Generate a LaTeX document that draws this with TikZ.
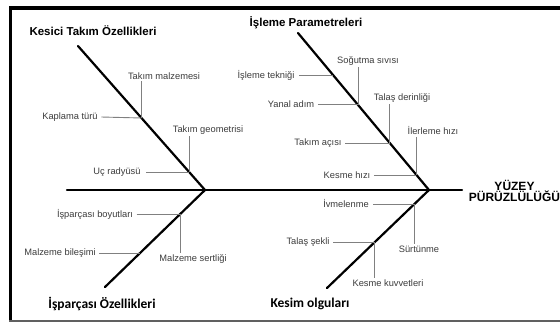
\documentclass[tikz,border=0pt]{standalone}
\usepackage{fontspec}
\setmainfont{Liberation Sans}
\newfontfamily\calib{Carlito}
\definecolor{labelgray}{HTML}{3C3C3C}
\definecolor{twiggray}{HTML}{808080}
\definecolor{framegray}{HTML}{606060}
\begin{document}
\begin{tikzpicture}[x=1pt,y=-1pt,
  lbl/.style={font=\fontsize{9.3}{10}\selectfont, text=labelgray, inner sep=1.5pt},
  ttl/.style={font=\fontsize{11.5}{13}\selectfont\bfseries, inner sep=0pt},
  ttlc/.style={font=\fontsize{13.5}{15}\selectfont\calib\bfseries, inner sep=0pt},
  bone/.style={line width=2.2pt, line cap=round},
  twig/.style={line width=0.9pt, draw=twiggray}]
\useasboundingbox (0,0) rectangle (560,322);
\fill[white] (0,0) rectangle (560,322);
% frame
\draw[line width=3.5pt] (9,8) -- (560,8);
\draw[line width=3.3pt] (10.6,6.3) -- (10.6,321);
\draw[line width=1.5pt, framegray] (9,321) -- (560,321);

% main bones
\coordinate (sl) at (67,190);
\coordinate (sr) at (462,190);
\coordinate (jl) at (205,190);
\coordinate (jr) at (429,190);
\coordinate (ul) at (78,46);
\coordinate (ur) at (298,33);
\coordinate (ll) at (105,287);
\coordinate (lr) at (327,288);
\draw[bone] (sl) -- (sr);
\draw[bone] (ul) -- (jl) -- (ll);
\draw[bone] (ur) -- (jr) -- (lr);

% titles
\node[ttl] (t1) at (93,31) {Kesici Takım Özellikleri};
\node[ttl] (t2) at (306,23) {İşleme Parametreleri};
\node[ttlc] (t3) at (102,304) {İşparçası Özellikleri};
\node[ttlc] (t4) at (310,304) {Kesim olguları};
\node[font=\fontsize{12}{11}\selectfont\bfseries, align=center, inner sep=0pt] (effect) at (514.5,190.5) {YÜZEY\\PÜRÜZLÜLÜĞÜ};

% junctions
\coordinate (j1) at (141.5,118);
\coordinate (j2) at (189,172);
\coordinate (j3a) at (333,75);
\coordinate (j3) at (358,105);
\coordinate (j4) at (389.7,143);
\coordinate (j5) at (416.4,175);
\coordinate (j6) at (180.3,214);
\coordinate (j6b) at (140,253);
\coordinate (j7) at (414.4,204);
\coordinate (j8) at (374.9,242);

% upper-left labels
\node[lbl] (a1) at (164,76) {Takım malzemesi};
\node[lbl] (a2) at (70,117) {Kaplama türü};
\node[lbl] (a3) at (208,130) {Takım geometrisi};
\node[lbl] (a4) at (117,172) {Uç radyüsü};
\draw[twig] (j1 |- a1.south) -- (j1);
\draw[twig] ([xshift=2pt]a2.east) -- (j1);
\draw[twig] (j2 |- a3.south) -- (j2);
\draw[twig] ([xshift=4pt]a4.east) -- (j2);

% upper-right labels
\node[lbl] (b1) at (368,61) {Soğutma sıvısı};
\node[lbl] (b2) at (266,75) {İşleme tekniği};
\node[lbl] (b3) at (291,104) {Yanal adım};
\node[lbl] (b4) at (402,98) {Talaş derinliği};
\node[lbl] (b5) at (318,143) {Takım açısı};
\node[lbl] (b6) at (433,131) {İlerleme hızı};
\node[lbl] (b7) at (347,175) {Kesme hızı};
\draw[twig] ([xshift=3pt]b2.east) -- (j3a);
\draw[twig] (j3 |- b1.south) -- (j3);
\draw[twig] ([xshift=2pt]b3.east) -- (j3 |- b3.east);
\draw[twig] (j4 |- b4.south) -- (j4);
\draw[twig] ([xshift=2pt]b5.east) -- (j4);
\draw[twig] (j5 |- b6.south) -- (j5);
\draw[twig] ([xshift=2pt]b7.east) -- (j5);

% lower-left labels
\node[lbl] (c1) at (95,214) {İşparçası boyutları};
\node[lbl] (c2) at (60,253) {Malzeme bileşimi};
\node[lbl] (c3) at (193,259) {Malzeme sertliği};
\draw[twig] ([xshift=2pt]c1.east) -- (j6);
\draw[twig] (j6) -- (j6 |- c3.north);
\draw[twig] ([xshift=2pt]c2.east) -- (j6b);

% lower-right labels
\node[lbl] (d1) at (346,204) {İvmelenme};
\node[lbl] (d2) at (308,242) {Talaş şekli};
\node[lbl] (d3) at (419,249) {Sürtünme};
\node[lbl] (d4) at (388,283) {Kesme kuvvetleri};
\draw[twig] ([xshift=3pt]d1.east) -- (j7);
\draw[twig] (j7) -- (j7 |- d3.north);
\draw[twig] ([xshift=2pt]d2.east) -- (j8);
\draw[twig] (j8) -- (j8 |- d4.north);
\end{tikzpicture}
\end{document}
